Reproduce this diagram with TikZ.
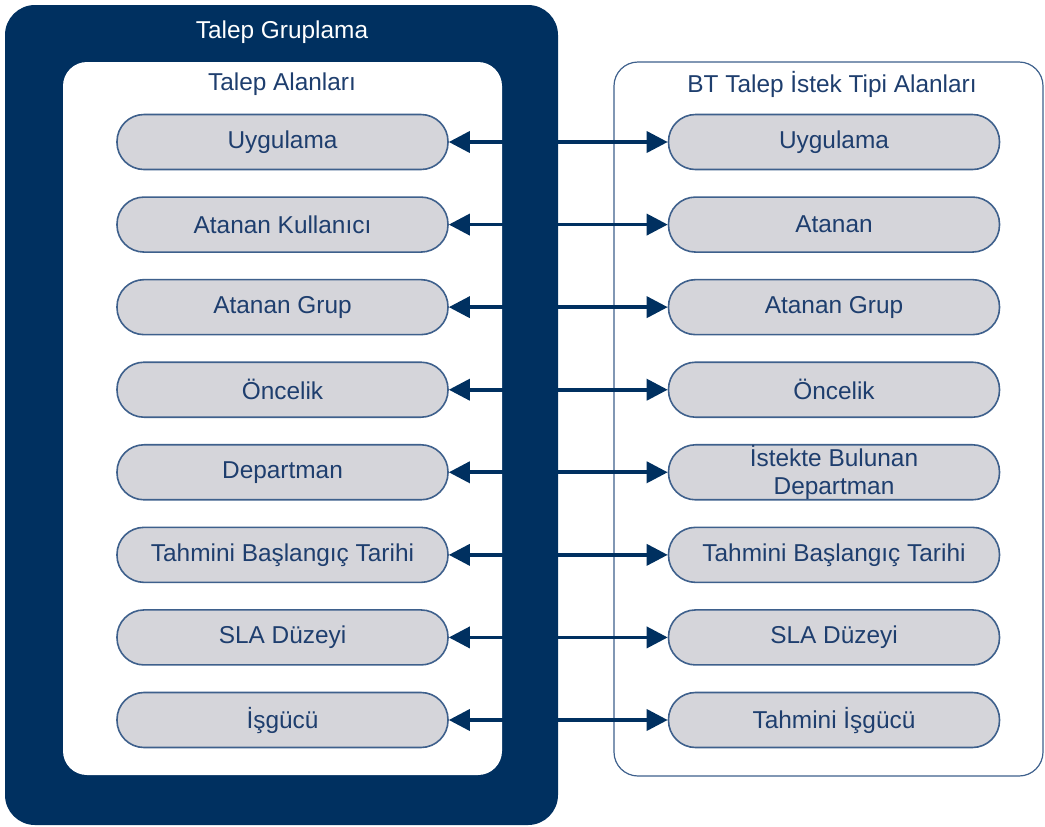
\documentclass[tikz,border=0pt]{standalone}
\usepackage{fontspec}
\setmainfont{Liberation Sans}
\usetikzlibrary{arrows.meta}
\definecolor{lacivert}{RGB}{0,48,96}
\definecolor{alangri}{RGB}{213,213,218}
\definecolor{alancizgi}{RGB}{62,96,140}
\definecolor{yazi}{RGB}{30,62,110}

\begin{document}
\begin{tikzpicture}[x=0.5pt,y=-0.5pt,
  alan/.style={draw=alancizgi,fill=alangri,line width=0.8pt,rounded corners=13.5pt,
    minimum width=165.5pt,minimum height=27.5pt,inner sep=0pt,text=yazi,
    font=\fontsize{12.2}{14.2}\selectfont,align=center},
  baslik/.style={font=\fontsize{12.2}{14.2}\selectfont,inner sep=0pt},
  ok/.style={{Triangle[length=10.5pt,width=10.5pt]}-{Triangle[length=10.5pt,width=10.5pt]},
    draw=lacivert,line width=1.8pt}]
  \useasboundingbox (0,0) rectangle (1045,826);

  %% Containers
  \fill[lacivert,rounded corners=15pt] (5,5) rectangle (558,825);
  \fill[white,rounded corners=12pt] (63,62) rectangle (502,775);
  \draw[alancizgi,line width=0.6pt,rounded corners=12pt] (614,62) rectangle (1043,776);

  %% Titles
  \node[baslik,text=white] (gruplama) at (282,32) {Talep Gruplama};
  \node[baslik,text=yazi] (talepalan) at (282,84) {Talep Alanları};
  \node[baslik,text=yazi] (btalan) at (832,84) {BT Talep İstek Tipi Alanları};

  %% Field pairs with double arrows
  \foreach \i/\sol/\sag in {1/Uygulama/Uygulama,
      2/Atanan Kullanıcı/Atanan,
      3/Atanan Grup/Atanan Grup,
      4/Öncelik/Öncelik,
      5/Departman/{İstekte Bulunan\\Departman},
      6/Tahmini Başlangıç Tarihi/Tahmini Başlangıç Tarihi,
      7/SLA Düzeyi/SLA Düzeyi,
      8/İşgücü/Tahmini İşgücü}
  {
    \node[alan] (TA\i) at (282.5,{142+82.57*(\i-1)}) {\sol};
    \node[alan] (BT\i) at (834,{142+82.57*(\i-1)}) {\sag};
    \draw[ok] (TA\i) -- (BT\i);
  }
\end{tikzpicture}
\end{document}
